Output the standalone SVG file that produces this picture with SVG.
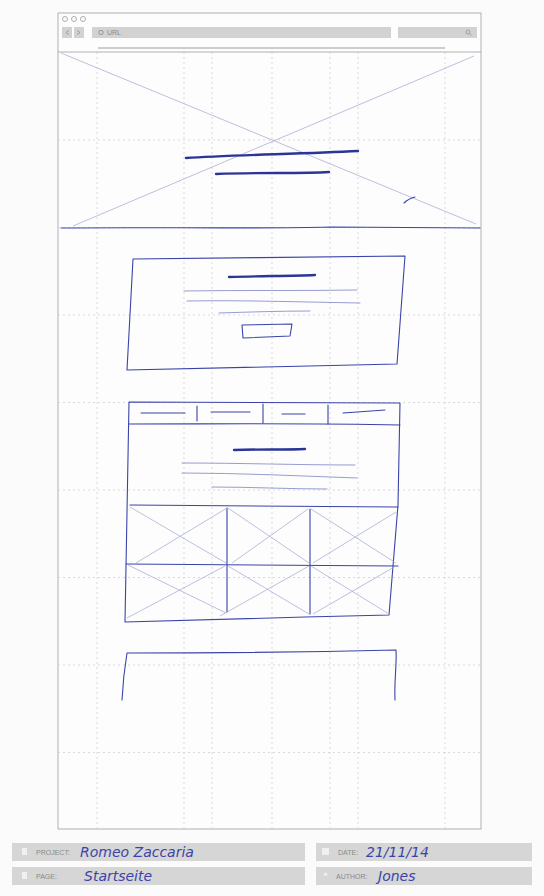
<svg xmlns="http://www.w3.org/2000/svg" width="544" height="896" viewBox="0 0 544 896">
<style>
.grid{stroke:#cfcfcf;stroke-width:0.8;stroke-dasharray:2 3;fill:none}
.pen{stroke:#3a44a8;stroke-width:1.1;fill:none;stroke-linecap:round;stroke-linejoin:round}
.thin{stroke:#7c84c4;stroke-width:0.8;fill:none;stroke-linecap:round}
.thick{stroke:#2a3596;stroke-width:2.4;fill:none;stroke-linecap:round}
.cross{stroke:#aab0d6;stroke-width:0.8;fill:none}
.bar{fill:#d6d6d6}
.chrome{fill:#d2d2d2}
.lbl{font-family:"Liberation Sans",Arial,sans-serif;font-size:7px;fill:#8a8a8a}
.hand{font-family:"DejaVu Sans","Liberation Sans",sans-serif;font-style:italic;font-size:14px;fill:#3a44a8}
</style>
<rect x="0" y="0" width="544" height="896" fill="#fbfbfb"/>
<g id="frame">
<rect x="58" y="13" width="423" height="816" fill="#fdfdfd" stroke="#a8a8a8" stroke-width="0.9"/>
</g>
<g id="grid">
<path class="grid" d="M97 52V829M184 52V829M212 52V829M272 52V829M330 52V829M358 52V829M445 52V829"/>
<path class="grid" d="M58 140H481M58 227.5H481M58 315H481M58 402.5H481M58 490H481M58 577.5H481M58 665H481M58 752.5H481"/>
</g>
<g id="browser-chrome">
<circle cx="65" cy="19" r="2.5" fill="none" stroke="#9a9a9a" stroke-width="0.8"/>
<circle cx="74" cy="19" r="2.5" fill="none" stroke="#9a9a9a" stroke-width="0.8"/>
<circle cx="83" cy="19" r="2.5" fill="none" stroke="#9a9a9a" stroke-width="0.8"/>
<rect class="chrome" x="62" y="27" width="10" height="11"/>
<rect class="chrome" x="74" y="27" width="10" height="11"/>
<path d="M69 30.5l-3 2 3 2M77 30.5l3 2-3 2" stroke="#8a8a8a" stroke-width="0.7" fill="none"/>
<rect class="chrome" x="92" y="27" width="299" height="11"/>
<circle cx="101" cy="32.5" r="2.2" fill="none" stroke="#8a8a8a" stroke-width="0.8"/>
<text x="107" y="35" class="lbl" font-size="5">URL</text>
<rect class="chrome" x="398" y="27" width="79" height="11"/>
<circle cx="468" cy="32" r="2" fill="none" stroke="#8a8a8a" stroke-width="0.7"/>
<path d="M469.5 33.5l2 2" stroke="#8a8a8a" stroke-width="0.7"/>
<path d="M98 48H445" stroke="#bdbdbd" stroke-width="1.6"/>
<path d="M58 52H481" stroke="#a8a8a8" stroke-width="0.9"/>
</g>
<g id="hero">
<path class="cross" d="M61 53L476 224M73 226L474 56"/>
<path class="thick" d="M186 158C230 155 300 154 358 151" stroke-width="2.6"/>
<path class="thick" d="M216 174C260 172 300 174 329 172" stroke-width="2"/>
<path class="pen" d="M404 203C407 200 411 198 415 197"/>
<path class="pen" d="M61 228C150 227 250 229 330 227C400 227 450 228 480 228" stroke-width="1.4"/>
</g>
<g id="intro-box">
<path class="pen" d="M133 259C220 258 320 257 405 256L397 364C300 366 210 369 127 370Z"/>
<path class="thick" d="M229 277C260 276 290 276 315 275" stroke-width="2"/>
<path class="thin" d="M184 291C240 290 300 291 357 290" stroke-width="1"/>
<path class="thin" d="M187 301C240 300 300 302 360 303" stroke-width="1"/>
<path class="thin" d="M219 313C250 312 280 311 310 311" stroke-width="1"/>
<path class="pen" d="M242 325L292 324L290 336L243 338Z"/>
</g>
<g id="content-box">
<path class="pen" d="M129 402C220 402 310 403 400 403L398 505L389 615C300 617 200 620 125 622Z" stroke-width="1.2"/>
<path class="pen" d="M129 424C220 424 310 423 400 425"/>
<path class="pen" d="M197 406V421M263 404V423M328 405V424" stroke-width="1.4"/>
<path class="pen" d="M141 413H185M211 412H250M282 414H305M343 413L385 410"/>
<path class="thick" d="M234 450C260 449 285 450 305 449"/>
<path class="thin" d="M182 463C240 463 300 465 355 465" stroke-width="1"/>
<path class="thin" d="M182 473C240 473 300 476 357 478" stroke-width="1"/>
<path class="thin" d="M212 487C250 487 290 489 327 489" stroke-width="1"/>
<path class="pen" d="M130 505C220 506 310 506 398 507" stroke-width="1.2"/>
<path class="pen" d="M227 508V612M310 509V614" stroke-width="1.2"/>
<path class="pen" d="M126 564C220 564 310 565 398 566"/>
<path class="cross" d="M130 507L226 563M136 563L227 508M228 508L309 563M232 563L308 509M311 509L396 563M313 563L396 512"/>
<path class="cross" d="M128 565L226 613M127 618L225 566M228 566L309 614M220 616L309 566M311 566L389 614M313 614L396 566"/>
</g>
<g id="footer-box">
<path class="pen" d="M127 653C220 653 310 652 396 650C397 665 394 680 395 700M127 653C125 665 123 680 122 700"/>
</g>
<g id="meta">
<rect class="bar" x="12" y="843" width="293" height="18"/>
<rect class="bar" x="12" y="867" width="293" height="18"/>
<rect class="bar" x="316" y="843" width="216" height="18"/>
<rect class="bar" x="316" y="867" width="216" height="18"/>
<rect x="22" y="848" width="5" height="7" fill="#f0f0f0"/>
<rect x="22" y="872" width="5" height="7" fill="#f0f0f0"/>
<rect x="322" y="848" width="7" height="7" fill="#f0f0f0"/>
<path d="M325.5 872l2.5 3.5h-5z" fill="#f0f0f0"/>
<text class="lbl" x="36" y="855">PROJECT:</text>
<text class="lbl" x="36" y="879">PAGE:</text>
<text class="lbl" x="338" y="855">DATE:</text>
<text class="lbl" x="336" y="879">AUTHOR:</text>
<text class="hand" x="80" y="857">Romeo Zaccaria</text>
<text class="hand" x="84" y="881">Startseite</text>
<text class="hand" x="366" y="857" font-size="15">21/11/14</text>
<text class="hand" x="378" y="881">Jones</text>
</g>
</svg>
